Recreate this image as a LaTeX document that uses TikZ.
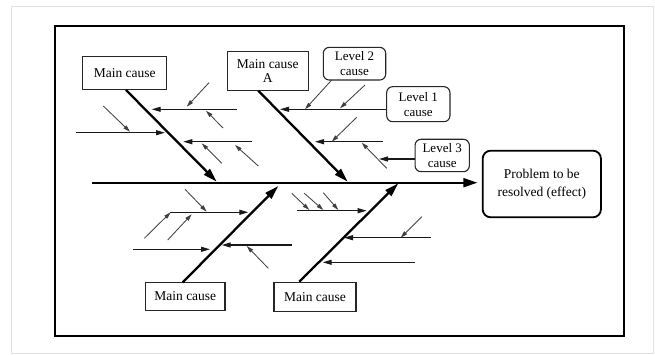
\documentclass[tikz,border=0pt]{standalone}
\usepackage{fontspec}
\setmainfont{Liberation Serif}
\usetikzlibrary{arrows.meta}
\begin{document}
\begin{tikzpicture}[x=1pt,y=-1pt,
  causebox/.style={draw=black!85,line width=1.1pt,inner sep=0pt,align=center,
    font=\fontsize{13.5}{14.5}\selectfont},
  levelbox/.style={draw=black!85,line width=1.1pt,rounded corners=6pt,inner sep=0pt,align=center,
    font=\fontsize{13}{15}\selectfont},
  effectbox/.style={draw=black,line width=1.8pt,rounded corners=8pt,inner sep=0pt,align=center,
    font=\fontsize{13.5}{18}\selectfont},
  spine/.style={line width=2pt,-{Triangle[length=14pt,width=9pt]}},
  bone/.style={line width=2.3pt,-{Triangle[length=14pt,width=8pt]}},
  subbone/.style={line width=1.1pt,black!90,-{Triangle[length=9pt,width=5pt]}},
  twig/.style={line width=0.85pt,black!75,-{Triangle[length=7pt,width=4pt]}}
]
\useasboundingbox (0,0) rectangle (655,355);
% frames
\draw[black!12,line width=0.8pt] (11.7,6) rectangle (653,353.5);
\draw[black,line width=2pt] (55,26) rectangle (624.3,335.7);

% boxes
\node[causebox,minimum width=84pt,minimum height=33.3pt] (mc1) at (124.7,73.3) {Main cause};
\node[causebox,minimum width=81pt,minimum height=39pt] (mca) at (267.8,71.2) {Main cause\\A};
\node[levelbox,minimum width=62.4pt,minimum height=32.7pt] (l2) at (354.5,63.7) {Level 2\\cause};
\node[levelbox,minimum width=63.3pt,minimum height=35pt] (l1) at (418.3,104.2) {Level 1\\cause};
\node[levelbox,minimum width=54.3pt,minimum height=32.4pt] (l3) at (442.2,155.5) {Level 3\\cause};
\node[effectbox,minimum width=118.3pt,minimum height=66.6pt] (pb) at (541.8,184) {Problem to be\\resolved (effect)};
\node[causebox,minimum width=79.3pt,minimum height=28.4pt] (mc3) at (185.3,296.5) {Main cause};
\node[causebox,minimum width=82pt,minimum height=29.4pt] (mc4) at (315,297) {Main cause};

% spine
\coordinate (sp0) at (92,182.7);
\coordinate (sp1) at (pb.west |- sp0);
\draw[spine,shorten >=4.4pt] (sp0) -- (sp1);

% main bones
\coordinate (b1s) at (126,90);
\coordinate (b1e) at (216.7,181.7);
\draw[bone] (b1s) -- (b1e);
\coordinate (bas) at (258.3,90.7);
\coordinate (bae) at (347.7,181.7);
\draw[bone] (bas) -- (bae);
\coordinate (b3s) at (182.7,282.3);
\coordinate (b3e) at (278.3,186);
\draw[bone] (b3s) -- (b3e);
\coordinate (b4s) at (299.3,281.7);
\coordinate (b4e) at (398.3,183.3);
\draw[bone] (b4s) -- (b4e);

% bone 1 sub-causes
\draw[subbone] (236.7,109.3) -- (151.7,109.3);
\draw[twig] (209,82.7) -- (186.7,106.7);
\draw[twig] (223,128) -- (206,110.7);
\draw[subbone] (76,132.7) -- (165,132.7);
\draw[twig] (103.3,106) -- (130,131.7);
\draw[subbone] (251.7,141.7) -- (183.3,141.7);
\draw[twig] (221.7,163.3) -- (201.7,143.3);
\draw[twig] (258.3,166) -- (235,145);

% bone A sub-causes
\coordinate (l1a) at (l1.west |- 0,109.3);
\draw[subbone] (l1a) -- (280,109.3);
\coordinate (l2a) at (331.7,80);
\draw[twig] (l2a) -- (305,109.3);
\draw[twig] (365,85) -- (340,108.3);
\draw[subbone] (382.7,141.7) -- (315,141.7);
\draw[twig] (356.7,117.3) -- (331.7,141.7);
\draw[twig] (386.7,168.3) -- (361.7,142.7);
\coordinate (l3a) at (l3.west |- 0,159);
\draw[subbone] (l3a) -- (379,159);

% bone 3 sub-causes
\draw[subbone] (170,212.3) -- (248.3,212.3);
\draw[twig] (185,189.3) -- (206.7,211.7);
\draw[twig] (144.3,238.3) -- (170.7,212.3);
\draw[twig] (167.7,240) -- (191.7,214.3);
\draw[subbone] (133.3,249.3) -- (210,249.3);
\draw[subbone] (291.7,245) -- (221.7,245);
\draw[twig] (268.3,268.3) -- (246.7,246);

% bone 4 sub-causes
\draw[subbone] (296.7,210.7) -- (366.7,210.7);
\draw[twig] (291.7,193.3) -- (309.3,210);
\draw[twig] (304.3,193.3) -- (323.3,210);
\draw[twig] (323.3,192.7) -- (338.3,210);
\draw[subbone] (431,237.7) -- (344,237.7);
\draw[twig] (421.7,216.7) -- (400.7,237.7);
\draw[subbone] (415,262.3) -- (322.7,262.3);
\end{tikzpicture}
\end{document}
